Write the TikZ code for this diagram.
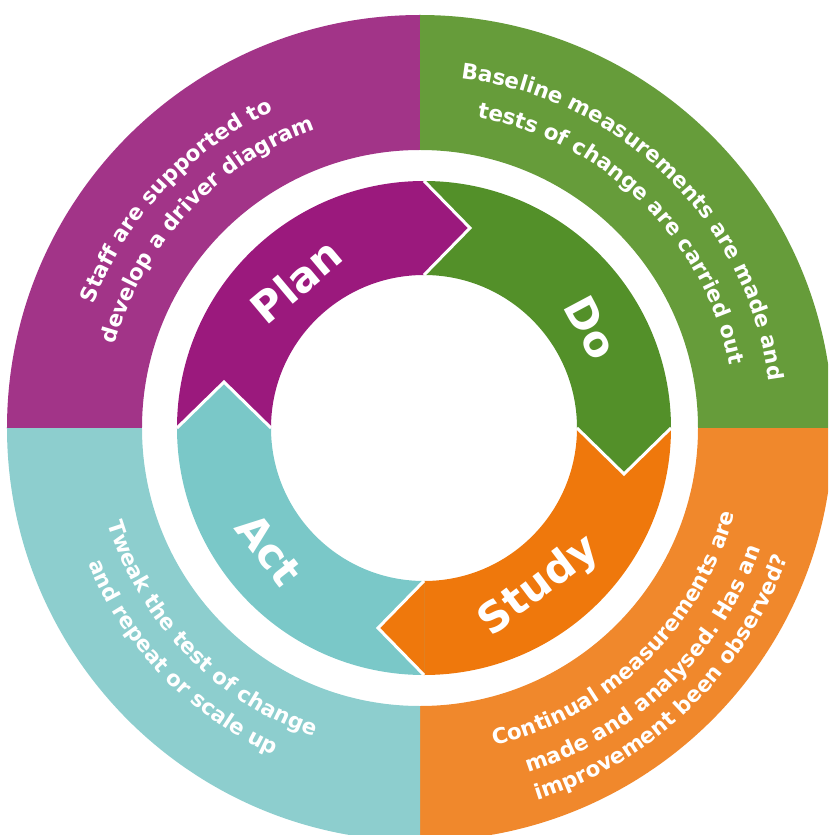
\documentclass[tikz,border=0pt]{standalone}
\usepackage{fontspec}
\setmainfont{DejaVu Sans}
\usetikzlibrary{calc,decorations.text}

\definecolor{PlanOuter}{RGB}{162,52,136}
\definecolor{PlanInner}{RGB}{155,25,125}
\definecolor{DoOuter}{RGB}{102,156,58}
\definecolor{DoInner}{RGB}{83,144,41}
\definecolor{StudyOuter}{RGB}{240,136,44}
\definecolor{StudyInner}{RGB}{239,120,12}
\definecolor{ActOuter}{RGB}{141,206,206}
\definecolor{ActInner}{RGB}{122,200,200}

\newcommand{\ringfont}{\bfseries\fontsize{21.5}{21.5}\selectfont}
\newcommand{\stagefont}{\bfseries\fontsize{42}{42}\selectfont}

\tikzset{
  stagelabel/.style={text=white, font=\stagefont, inner sep=0pt},
  ringtext/.style={decorate, decoration={text along path, text align=center,
      text color=white, text={|\ringfont|#1}}},
  headedge/.style={draw=white, line width=3pt, line join=miter},
}

\begin{document}
\begin{tikzpicture}[x=1pt,y=1pt]

    \useasboundingbox (-424,-407) rectangle (404,428);
    \clip (-424,-407) rectangle (404,428);

    \coordinate (O) at (0,0);
    % Centro del anillo exterior
    \coordinate (Q) at (-4,0);

    % Anillo exterior
    \fill[PlanOuter] ($(Q)+(180:413)$) arc[start angle=180, end angle=90, radius=413]
        -- ($(Q)+(90:278)$) arc[start angle=90, end angle=180, radius=278] -- cycle;
    \fill[DoOuter] ($(Q)+(90:413)$) arc[start angle=90, end angle=0, radius=413]
        -- ($(Q)+(0:278)$) arc[start angle=0, end angle=90, radius=278] -- cycle;
    \fill[StudyOuter] ($(Q)+(0:413)$) arc[start angle=0, end angle=-90, radius=413]
        -- ($(Q)+(-90:278)$) arc[start angle=-90, end angle=0, radius=278] -- cycle;
    \fill[ActOuter] ($(Q)+(-90:413)$) arc[start angle=-90, end angle=-180, radius=413]
        -- ($(Q)+(-180:278)$) arc[start angle=-180, end angle=-90, radius=278] -- cycle;

    % Anillo interior
    \fill[PlanInner] (180:247) arc[start angle=180, end angle=90, radius=247]
        -- (90:153) arc[start angle=90, end angle=180, radius=153] -- cycle;
    \fill[DoInner] (90:247) arc[start angle=90, end angle=0, radius=247]
        -- (0:153) arc[start angle=0, end angle=90, radius=153] -- cycle;
    \fill[StudyInner] (0:247) arc[start angle=0, end angle=-90, radius=247]
        -- (-90:153) arc[start angle=-90, end angle=0, radius=153] -- cycle;
    \fill[ActInner] (-90:247) arc[start angle=-90, end angle=-180, radius=247]
        -- (-180:153) arc[start angle=-180, end angle=-90, radius=153] -- cycle;

    % Puntas de flecha
    \coordinate (PlanTip) at ($(90:200)+(0:46)$);
    \coordinate (DoTip) at ($(0:200)+(-90:46)$);
    \coordinate (StudyTip) at ($(-90:200)+(180:46)$);
    \coordinate (ActTip) at ($(180:200)+(90:46)$);

    \fill[PlanInner] (90:247) -- (PlanTip) -- (90:153) -- cycle;
    \fill[DoInner] (0:247) -- (DoTip) -- (0:153) -- cycle;
    \fill[StudyInner] (-90:247) -- (StudyTip) -- (-90:153) -- cycle;
    \fill[ActInner] (180:247) -- (ActTip) -- (180:153) -- cycle;

    \draw[headedge] (90:247) -- (PlanTip) -- (90:153);
    \draw[headedge] (0:247) -- (DoTip) -- (0:153);
    \draw[headedge] (-90:247) -- (StudyTip) -- (-90:153);
    \draw[headedge] (180:247) -- (ActTip) -- (180:153);

    \node[stagelabel, rotate=40] (plan) at (131:195) {Plan};
    \node[stagelabel, rotate=-62] (do) at (31:195) {Do};
    \node[stagelabel, rotate=37] (study) at (-54:196) {Study};
    \node[stagelabel, rotate=-52] (act) at (218:197) {Act};

    % Textos sobre el anillo exterior
    \path[ringtext={Staff are supported to}]
        ($(Q)+(182:349)$) arc[start angle=182, end angle=92, radius=349];
    \path[ringtext={develop a driver diagram}]
        ($(Q)+(182:316)$) arc[start angle=182, end angle=92, radius=316];

    \path[ringtext={Baseline measurements are made and}]
        ($(Q)+(90.5:352)$) arc[start angle=90.5, end angle=0.5, radius=352];
    \path[ringtext={tests of change are carried out}]
        ($(Q)+(90.5:316)$) arc[start angle=90.5, end angle=0.5, radius=316];

    \path[ringtext={Continual measurements are}]
        ($(Q)+(-91:326)$) arc[start angle=-91, end angle=-1, radius=326];
    \path[ringtext={made and analysed. Has an}]
        ($(Q)+(-91:361)$) arc[start angle=-91, end angle=-1, radius=361];
    \path[ringtext={improvement been observed?}]
        ($(Q)+(-91:390)$) arc[start angle=-91, end angle=-1, radius=390];

    \path[ringtext={Tweak the test of change}]
        ($(Q)+(179:326)$) arc[start angle=179, end angle=269, radius=326];
    \path[ringtext={and repeat or scale up}]
        ($(Q)+(179:358)$) arc[start angle=179, end angle=269, radius=358];

\end{tikzpicture}
\end{document}
